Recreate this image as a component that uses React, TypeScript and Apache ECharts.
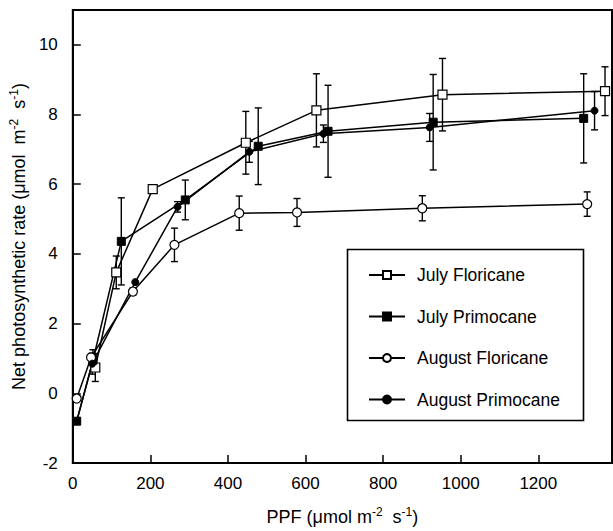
import React, { useEffect, useRef } from "react";
import * as echarts from "echarts";

// July Floricane
const jfX = [58, 112, 206, 446, 628, 953, 1372];
const jfY = [0.74, 3.47, 5.86, 7.19, 8.12, 8.57, 8.67];
const jfE = [0.4, 0.47, 0.08, 0.9, 1.05, 1.04, 0.7];
// July Primocane
const jpX = [10, 52, 125, 290, 478, 658, 929, 1317];
const jpY = [-0.8, 0.95, 4.36, 5.55, 7.09, 7.52, 7.78, 7.89];
const jpE = [0, 0.3, 1.25, 0.57, 1.1, 1.32, 1.37, 1.28];
// August Floricane
const afX = [10, 47, 155, 262, 429, 578, 901, 1326];
const afY = [-0.15, 1.03, 2.92, 4.26, 5.17, 5.19, 5.31, 5.43];
const afE = [0, 0, 0.1, 0.48, 0.49, 0.4, 0.36, 0.35];
// August Primocane
const apX = [10, 50, 161, 270, 455, 646, 920, 1345];
const apY = [-0.8, 0.85, 3.19, 5.35, 6.93, 7.45, 7.63, 8.11];
const apE = [0, 0.3, 0, 0.15, 0.3, 0.25, 0.4, 0.55];

const seriesNames = ["July Floricane", "July Primocane", "August Floricane", "August Primocane"];
const FONT = "Liberation Sans, Arial, sans-serif";

function pts(xs: number[], ys: number[]) {
  return xs.map((x, i) => [x, ys[i]]);
}
function errs(xs: number[], ys: number[], es: number[]) {
  return xs.map((x, i) => [x, ys[i] - es[i], ys[i] + es[i]]).filter((_, i) => es[i] > 0.05);
}

export default function App() {
  const ref = useRef<HTMLDivElement>(null);
  useEffect(() => {
    if (!ref.current) return;
    const chart = echarts.init(ref.current, null, { renderer: "svg" });
    const lineBase = {
      type: "line" as const,
      z: 3,
      lineStyle: { color: "#000", width: 1.5 },
      itemStyle: { color: "#000", borderColor: "#000", borderWidth: 1.2 },
      symbolSize: 9,
      emphasis: { disabled: true },
    };
    const openStyle = { color: "#fff", borderColor: "#000", borderWidth: 1.2 };
    const filledStyle = { color: "#000", borderColor: "#000", borderWidth: 1 };
    const errSeries = (name: string, data: number[][]) => ({
      type: "custom" as const,
      name,
      z: 2,
      data,
      encode: { x: 0, y: [1, 2] },
      renderItem: (params: any, api: any) => {
        const x = api.value(0);
        const lo = api.coord([x, api.value(1)]);
        const hi = api.coord([x, api.value(2)]);
        const w = 3.5;
        const st = { stroke: "#000", lineWidth: 1.4 };
        return {
          type: "group",
          children: [
            { type: "line", shape: { x1: lo[0], y1: lo[1], x2: hi[0], y2: hi[1] }, style: st },
            { type: "line", shape: { x1: lo[0] - w, y1: lo[1], x2: lo[0] + w, y2: lo[1] }, style: st },
            { type: "line", shape: { x1: hi[0] - w, y1: hi[1], x2: hi[0] + w, y2: hi[1] }, style: st },
          ],
        };
      },
    });
    const sup = { fontSize: 12, fontFamily: FONT, color: "#000", verticalAlign: "top" as const, lineHeight: 19 };
    const base = { fontSize: 18, fontFamily: FONT, color: "#000", lineHeight: 22 };
    chart.setOption({
      animation: false,
      backgroundColor: "#fff",
      grid: { left: 72, right: 1, top: 10, bottom: 68, show: true, borderColor: "#000", borderWidth: 2, backgroundColor: "transparent" },
      xAxis: {
        type: "value",
        min: 0,
        max: 1390,
        interval: 200,
        name: "{a|PPF (μmol m}{s|-2}{a|  s}{s|-1}{a|)}",
        nameLocation: "middle",
        nameGap: 43,
        nameTextStyle: { rich: { a: base, s: sup } },
        axisLine: { show: true, onZero: false, lineStyle: { color: "#000", width: 2 } },
        axisTick: { show: true, inside: true, length: 8, lineStyle: { color: "#000", width: 1.5 } },
        axisLabel: {
          color: "#000",
          fontSize: 17,
          fontFamily: FONT,
          margin: 12,
          showMaxLabel: false,
          formatter: (v: number) => String(v),
        },
        splitLine: { show: false },
      },
      yAxis: {
        type: "value",
        min: -2,
        max: 11,
        interval: 2,
        name: "{a|Net photosynthetic rate (μmol  m}{s|-2}{a|  s}{s|-1}{a|)}",
        nameLocation: "middle",
        nameGap: 36,
        nameRotate: 90,
        nameTextStyle: { rich: { a: base, s: sup } },
        axisLine: { show: true, onZero: false, lineStyle: { color: "#000", width: 2 } },
        axisTick: { show: true, inside: true, length: 8, lineStyle: { color: "#000", width: 1.5 } },
        axisLabel: {
          color: "#000",
          fontSize: 17,
          fontFamily: FONT,
          margin: 15,
          showMaxLabel: false,
          formatter: (v: number) => String(v),
        },
        splitLine: { show: false },
      },
      legend: {
        data: seriesNames,
        orient: "vertical",
        left: 363,
        top: 261,
        itemWidth: 36,
        itemHeight: 10,
        itemGap: 23.5,
        selectedMode: false,
        textStyle: { color: "#000", fontSize: 17.5, fontFamily: FONT, padding: [0, 0, 0, 7] },
        z: 5,
      },
      graphic: [
        {
          type: "rect",
          z: 4,
          shape: { x: 347.5, y: 249.5, width: 236, height: 171 },
          style: { fill: "#fff", stroke: "#000", lineWidth: 1.6 },
        },
      ],
      series: [
        errSeries("e1", errs(jfX, jfY, jfE)),
        errSeries("e2", errs(jpX, jpY, jpE)),
        errSeries("e3", errs(afX, afY, afE)),
        errSeries("e4", errs(apX, apY, apE)),
        { ...lineBase, name: seriesNames[0], data: pts(jfX, jfY), symbol: "rect", symbolSize: 9, itemStyle: openStyle },
        { ...lineBase, name: seriesNames[1], data: pts(jpX, jpY), symbol: "rect", symbolSize: 8, itemStyle: filledStyle },
        { ...lineBase, name: seriesNames[2], data: pts(afX, afY), symbol: "circle", symbolSize: 9, itemStyle: openStyle },
        { ...lineBase, name: seriesNames[3], data: pts(apX, apY), symbol: "circle", symbolSize: 7, itemStyle: filledStyle },
      ],
    });
    return () => chart.dispose();
  }, []);
  return <div ref={ref} style={{ position: "fixed", left: 0, top: 0, width: 613, height: 531 }} />;
}
